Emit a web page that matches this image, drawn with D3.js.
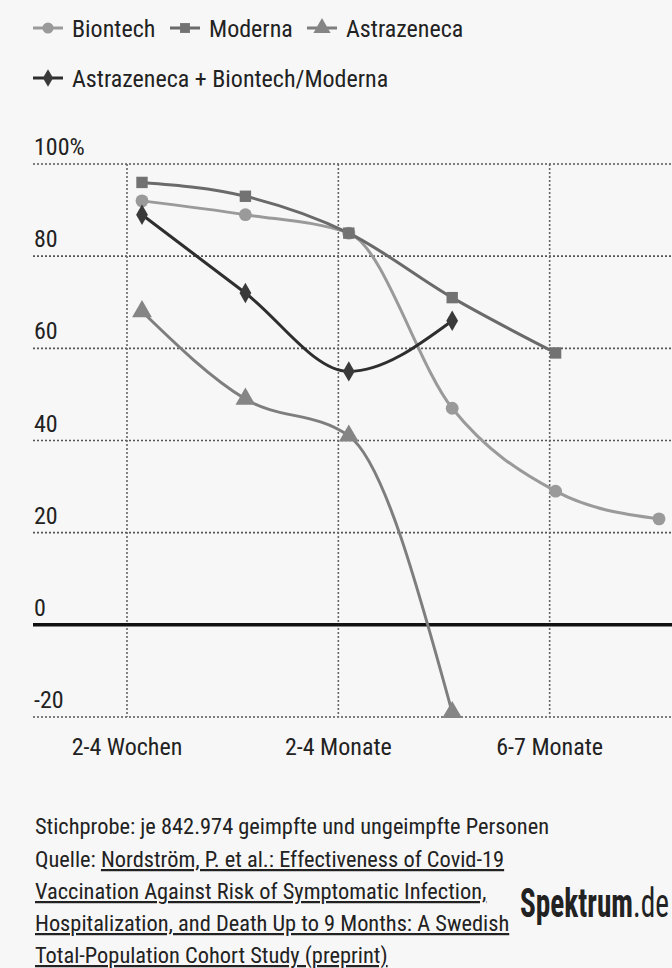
<!DOCTYPE html>
<html><head><meta charset="utf-8">
<script src="https://cdn.jsdelivr.net/npm/d3@7"></script>
<style>
html,body{margin:0;padding:0;background:#f7f7f7;}
svg{display:block;}
text{font-family:"Roboto Condensed","Liberation Sans Narrow","Arial Narrow","DejaVu Sans Condensed",Roboto,sans-serif;fill:#222;}
</style></head>
<body>
<svg id="c" width="672" height="968"></svg>
<script>
const periods = ["2-4 Wochen","1-2 Monate","2-4 Monate","4-6 Monate","6-7 Monate",">7 Monate"];
const tickLabels = ["2-4 Wochen","2-4 Monate","6-7 Monate"];
const yTicks = [100,80,60,40,20,0,-20];
const seriesNames = ["Biontech","Moderna","Astrazeneca","Astrazeneca + Biontech/Moderna"];
const biontech = [92,89,85,47,29,23];
const moderna = [96,93,85,71,59];
const astrazeneca = [68,49,41,-19];
const astraMix = [89,72,55,66];
const colors = ["#9a9a9a","#727272","#858585","#3a3a3a"];
const lineColors = ["#9a9a9a","#6a6a6a","#7e7e7e","#2e2e2e"];
const symbols = [d3.symbolCircle,d3.symbolSquare,d3.symbolTriangle,d3.symbolDiamond];
const symSizes = [130,130,170,120];
const sample = "Stichprobe: je 842.974 geimpfte und ungeimpfte Personen";
const sourceLines = ["Nordström, P. et al.: Effectiveness of Covid-19","Vaccination Against Risk of Symptomatic Infection,","Hospitalization, and Death Up to 9 Months: A Swedish","Total-Population Cohort Study (preprint)"];

const svg = d3.select("#c");
const y = d3.scaleLinear().domain([-20,100]).range([717,164]);
const x = d3.scalePoint().domain(periods).range([142,659]);
const xg = d3.scaleLinear().domain([0,3]).range([127,761]);

// horizontal grid
svg.append("g").selectAll("line").data(yTicks.filter(d=>d!==0)).join("line")
  .attr("x1",33).attr("x2",672).attr("y1",d=>y(d)).attr("y2",d=>y(d))
  .attr("stroke","#555").attr("stroke-width",1.6).attr("stroke-dasharray","2,2");
// vertical grid
svg.append("g").selectAll("line").data(d3.range(4)).join("line")
  .attr("x1",d=>xg(d)).attr("x2",d=>xg(d)).attr("y1",y(100)).attr("y2",y(-20))
  .attr("stroke","#666").attr("stroke-width",1.6).attr("stroke-dasharray","2,2");
// zero line
svg.append("line").attr("x1",33).attr("x2",672).attr("y1",y(0)).attr("y2",y(0))
  .attr("stroke","#111").attr("stroke-width",3.5);
// y labels
svg.append("g").selectAll("text").data(yTicks).join("text")
  .attr("x",34).attr("y",d=>y(d)-9).attr("font-size",24)
  .text(d=>d===100?"100%":d);
// x labels
svg.append("g").selectAll("text").data(tickLabels).join("text")
  .attr("x",(d,i)=>xg(i)).attr("y",755).attr("text-anchor","middle").attr("font-size",24)
  .text(d=>d);

const all = [biontech,moderna,astrazeneca,astraMix];
const line = d3.line().x((d,i)=>x(periods[i])).y(d=>y(d)).curve(d3.curveMonotoneX);
all.forEach((vals,k)=>{
  const g = svg.append("g");
  g.append("path").attr("d",line(vals)).attr("fill","none").attr("stroke",lineColors[k]).attr("stroke-width",3);
  g.selectAll("path.m").data(vals).join("path").attr("class","m")
    .attr("transform",(d,i)=>`translate(${x(periods[i])},${y(d)})`)
    .attr("d",d3.symbol().type(symbols[k]).size(symSizes[k]))
    .attr("fill",colors[k]);
});

// legend
const legPos = [[33,28],[170,28],[307,28],[33,78]];
seriesNames.forEach((n,k)=>{
  const [lx,ly] = legPos[k];
  const g = svg.append("g").attr("transform",`translate(${lx},${ly})`);
  g.append("line").attr("x1",0).attr("x2",30).attr("stroke",lineColors[k]).attr("stroke-width",3);
  g.append("path").attr("transform","translate(15,0)").attr("d",d3.symbol().type(symbols[k]).size(symSizes[k]*0.75)).attr("fill",colors[k]);
  g.append("text").attr("x",39).attr("y",9).attr("font-size",24).text(n);
});

// notes
svg.append("text").attr("x",35).attr("y",834).attr("font-size",22.4).text(sample);
const src = svg.append("g");
sourceLines.forEach((t,i)=>{
  const tx = src.append("text").attr("x",35).attr("y",867+i*32).attr("font-size",22.4);
  if(i===0){ tx.append("tspan").text("Quelle: "); }
  tx.append("tspan").attr("text-decoration","underline").text(t);
});
// logo
const logo = svg.append("g");
const t1 = logo.append("text").attr("x",0).attr("y",0).attr("font-size",40).attr("font-weight","bold")
  .attr("fill","#2a2a2a").text("Spektrum");
const w1 = t1.node().getComputedTextLength();
const t2 = logo.append("text").attr("x",w1).attr("y",0).attr("font-size",40)
  .attr("fill","#333").text(".de");
const w2 = t2.node().getComputedTextLength();
const sx = 149/(w1+w2);
logo.attr("transform",`translate(520,917) scale(${sx},1)`);
</script>
</body></html>
